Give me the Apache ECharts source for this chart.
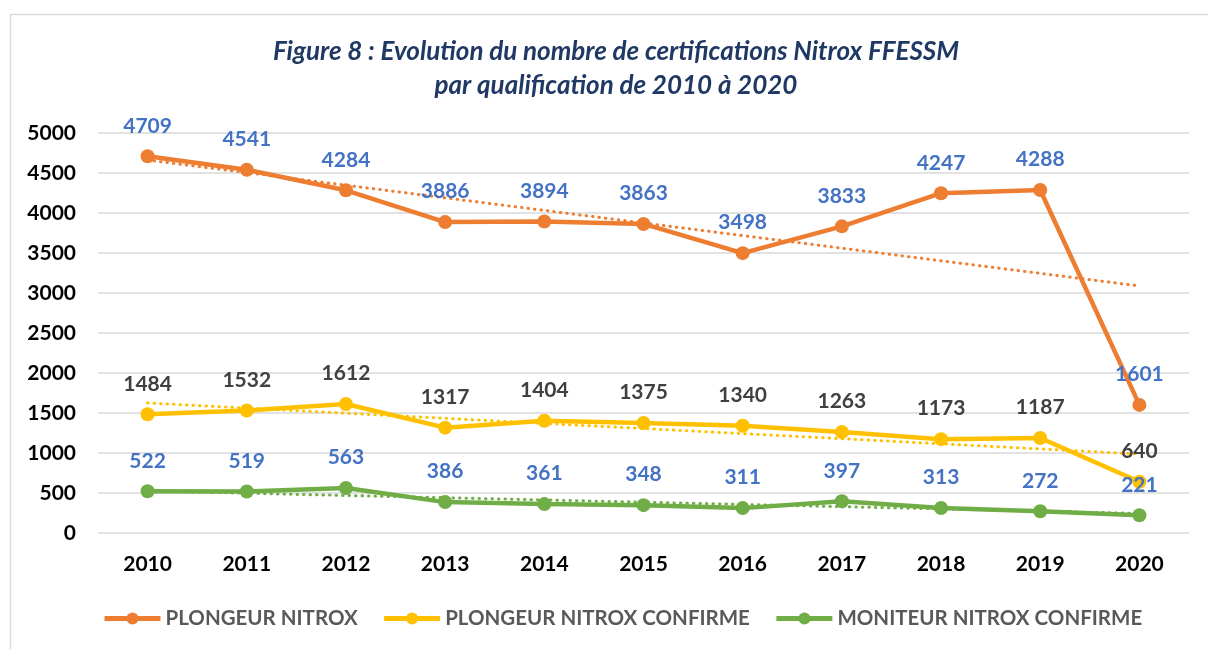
<!DOCTYPE html>
<html>
<head>
<meta charset="utf-8">
<script src="https://cdn.jsdelivr.net/npm/echarts@6/dist/echarts.min.js"></script>
<style>
  html, body { margin: 0; padding: 0; background: #fff; }
  #chart { width: 1208px; height: 649px; }
</style>
</head>
<body>
<div id="chart"></div>
<script>
const years = ["2010", "2011", "2012", "2013", "2014", "2015", "2016", "2017", "2018", "2019", "2020"]
const plongeurNitrox = [4709, 4541, 4284, 3886, 3894, 3863, 3498, 3833, 4247, 4288, 1601]
const plongeurConfirme = [1484, 1532, 1612, 1317, 1404, 1375, 1340, 1263, 1173, 1187, 640]
const moniteurConfirme = [522, 519, 563, 386, 361, 348, 311, 397, 313, 272, 221]

// trend lines: end points (2010, 2020)
const trendNitrox = [4662, null, null, null, null, null, null, null, null, null, 3088]
const trendConfirme = [1625, null, null, null, null, null, null, null, null, null, 987]
const trendMoniteur = [525, null, null, null, null, null, null, null, null, null, 245]

const font = "Lato, 'Open Sans', sans-serif"

const chart = echarts.init(document.getElementById("chart"))

const mainSeries = (name, data, color, labelColor) => ({
  name: name,
  type: "line",
  data: data,
  z: 5,
  symbol: "circle",
  symbolSize: 14,
  lineStyle: { color: color, width: 4.5 },
  itemStyle: { color: color },
  label: {
    show: true,
    position: "top",
    distance: 13,
    color: labelColor,
    fontFamily: font,
    fontWeight: "bold",
    fontSize: 21,
  },
})

const trendSeries = (data, color) => ({
  type: "line",
  data: data,
  connectNulls: true,
  z: 2,
  symbol: "none",
  silent: true,
  lineStyle: { color: color, width: 3, type: [0.5, 6], cap: "round" },
})

chart.setOption({
  backgroundColor: "#fff",
  animation: false,
  title: {
    text: "Figure 8 : Evolution du nombre de certifications Nitrox FFESSM\npar qualification de 2010 à 2020",
    left: 611,
    top: 30,
    textAlign: "center",
    textStyle: {
      color: "#1F3864",
      fontFamily: font,
      fontStyle: "italic",
      fontWeight: "bold",
      fontSize: 26,
      lineHeight: 34,
    },
  },
  graphic: [
    {
      type: "polyline",
      shape: { points: [[10.5, 660], [10.5, 14.5], [1220, 14.5]] },
      style: { stroke: "#D9D9D9", lineWidth: 1.5, fill: null },
      silent: true,
    },
  ],
  grid: { left: 98, right: 19, top: 133, bottom: 116 },
  legend: {
    bottom: 15,
    left: 97,
    itemWidth: 56,
    itemHeight: 15,
    itemGap: 24,
    lineStyle: { width: 5 },
    data: ["PLONGEUR NITROX", "PLONGEUR NITROX CONFIRME", "MONITEUR NITROX CONFIRME"],
    textStyle: {
      color: "#595959",
      fontFamily: font,
      fontWeight: "bold",
      fontSize: 20.5,
    },
  },
  xAxis: {
    type: "category",
    data: years,
    axisLine: { show: false },
    axisTick: { show: false },
    axisLabel: {
      color: "#000",
      fontFamily: font,
      fontWeight: "bold",
      fontSize: 21,
      margin: 21,
    },
  },
  yAxis: {
    type: "value",
    min: 0,
    max: 5000,
    interval: 500,
    axisLine: { show: false },
    axisTick: { show: false },
    axisLabel: {
      color: "#000",
      fontFamily: font,
      fontWeight: "bold",
      fontSize: 21,
      margin: 22,
      formatter: (v) => String(v),
    },
    splitLine: { lineStyle: { color: "#D9D9D9", width: 1.5 } },
  },
  series: [
    trendSeries(trendNitrox, "#ED7D31"),
    trendSeries(trendConfirme, "#FFC000"),
    trendSeries(trendMoniteur, "#70AD47"),
    mainSeries("PLONGEUR NITROX", plongeurNitrox, "#ED7D31", "#4472C4"),
    mainSeries("PLONGEUR NITROX CONFIRME", plongeurConfirme, "#FFC000", "#404040"),
    mainSeries("MONITEUR NITROX CONFIRME", moniteurConfirme, "#70AD47", "#4472C4"),
  ],
})
</script>
</body>
</html>
